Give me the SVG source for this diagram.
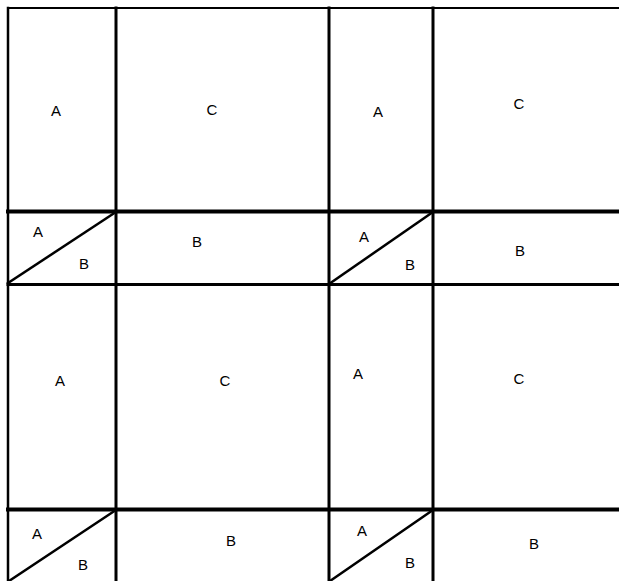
<svg xmlns="http://www.w3.org/2000/svg" width="619" height="581" viewBox="0 0 619 581">
<style>
.l{stroke:#000;fill:none;stroke-linecap:square}
.t{font-family:"Liberation Sans",Arial,sans-serif;font-size:15px;fill:#000;text-anchor:middle}
</style>
<rect width="619" height="581" fill="#fff"/>
<g id="grid">
<line class="l" x1="8" y1="8" x2="619" y2="8" stroke-width="2"/>
<line class="l" x1="8" y1="8" x2="8" y2="581" stroke-width="2.5"/>
<line class="l" x1="116" y1="8" x2="116" y2="581" stroke-width="3"/>
<line class="l" x1="329" y1="8" x2="329" y2="581" stroke-width="3"/>
<line class="l" x1="433" y1="8" x2="433" y2="581" stroke-width="3"/>
<line class="l" x1="8" y1="211.5" x2="619" y2="211.5" stroke-width="4"/>
<line class="l" x1="8" y1="284.5" x2="619" y2="284.5" stroke-width="3"/>
<line class="l" x1="8" y1="509.5" x2="619" y2="509.5" stroke-width="4"/>
</g>
<g id="connectors">
<line class="l" x1="8" y1="283" x2="116" y2="212" stroke-width="2.5"/>
<line class="l" x1="329" y1="284" x2="433" y2="212" stroke-width="2.5"/>
<line class="l" x1="9" y1="581" x2="116" y2="510" stroke-width="2.5"/>
<line class="l" x1="330" y1="581" x2="433" y2="510" stroke-width="2.5"/>
</g>
<g id="r1c1"><text class="t" x="56" y="116">A</text></g>
<g id="r1c2"><text class="t" x="212" y="115">C</text></g>
<g id="r1c3"><text class="t" x="378" y="117">A</text></g>
<g id="r1c4"><text class="t" x="519" y="109">C</text></g>
<g id="r2c1"><text class="t" x="38" y="237">A</text><text class="t" x="84" y="269">B</text></g>
<g id="r2c2"><text class="t" x="197" y="247">B</text></g>
<g id="r2c3"><text class="t" x="364" y="242">A</text><text class="t" x="410" y="270">B</text></g>
<g id="r2c4"><text class="t" x="520" y="256">B</text></g>
<g id="r3c1"><text class="t" x="60" y="386">A</text></g>
<g id="r3c2"><text class="t" x="225" y="386">C</text></g>
<g id="r3c3"><text class="t" x="358" y="379">A</text></g>
<g id="r3c4"><text class="t" x="519" y="384">C</text></g>
<g id="r4c1"><text class="t" x="37" y="539">A</text><text class="t" x="83" y="570">B</text></g>
<g id="r4c2"><text class="t" x="231" y="546">B</text></g>
<g id="r4c3"><text class="t" x="362" y="536">A</text><text class="t" x="410" y="568">B</text></g>
<g id="r4c4"><text class="t" x="534" y="549">B</text></g>
</svg>
